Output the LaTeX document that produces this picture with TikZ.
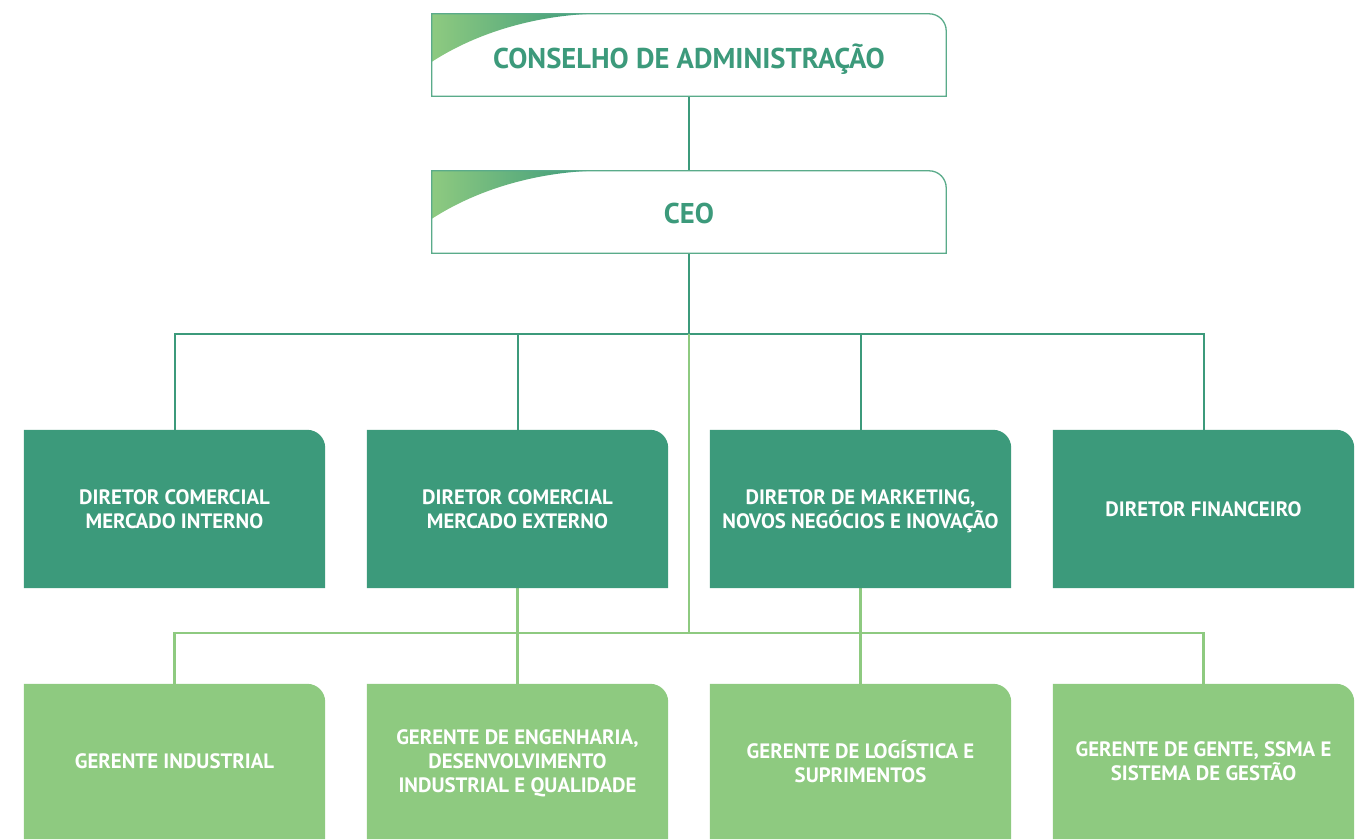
\documentclass[tikz,border=0pt]{standalone}
\usepackage{fontspec}
\setmainfont{PT Sans}
\usetikzlibrary{backgrounds}
\definecolor{dk}{HTML}{3C9A7B}
\definecolor{lg}{HTML}{8ECA80}
\definecolor{bd}{HTML}{5AAB8A}
\begin{document}
\begin{tikzpicture}[x=1pt,y=-1pt,
  dbox/.style={minimum width=301pt,minimum height=158pt,inner sep=0pt,align=center,text=white,text depth=0pt,font=\bfseries\fontsize{20.8}{24}\selectfont},
  mbox/.style={dbox,minimum height=155pt},
  tbox/.style={minimum width=514pt,minimum height=82pt,inner sep=0pt,text=dk,text depth=0pt,font=\bfseries\fontsize{28.6}{32}\selectfont},
  dline/.style={draw=dk,line width=2pt},
  lline/.style={draw=lg,line width=2.2pt}]
\useasboundingbox (0,0) rectangle (1363,839);
\node[tbox,text height=26pt] (cons) at (689,55) {CONSELHO DE ADMINISTRAÇÃO};
\node[tbox,text height=22pt] (ceo) at (689,212) {CEO};
\node[dbox] (d1) at (174.5,509) {DIRETOR COMERCIAL\\MERCADO INTERNO};
\node[dbox] (d2) at (517.5,509) {DIRETOR COMERCIAL\\MERCADO EXTERNO};
\node[dbox] (d3) at (860.5,509) {DIRETOR DE MARKETING,\\NOVOS NEGÓCIOS E INOVAÇÃO};
\node[dbox] (d4) at (1203.5,509) {DIRETOR FINANCEIRO};
\node[mbox] (m1) at (174.5,761.5) {GERENTE INDUSTRIAL};
\node[mbox] (m2) at (517.5,761.5) {GERENTE DE ENGENHARIA,\\DESENVOLVIMENTO\\INDUSTRIAL E QUALIDADE};
\node[mbox] (m3) at (860.5,761.5) {GERENTE DE LOGÍSTICA E\\SUPRIMENTOS};
\node[mbox] (m4) at (1203.5,761.5) {GERENTE DE GENTE, SSMA E\\SISTEMA DE GESTÃO};
\coordinate (j1) at (689,334);
\coordinate (j2) at (689,633);
\begin{scope}[on background layer]
  % connectors
  \draw[dline] (cons.south) -- (ceo.north);
  \draw[dline] (ceo.south) -- (j1);
  \draw[dline] (d1.north) -- (d1.north |- j1) -- (d4.north |- j1) -- (d4.north);
  \draw[dline] (d2.north |- j1) -- (d2.north);
  \draw[dline] (d3.north |- j1) -- (d3.north);
  \draw[lline] (j1) -- (j2);
  \draw[lline] (m1.north) -- (m1.north |- j2) -- (m4.north |- j2) -- (m4.north);
  \draw[lline] (d2.south) -- (m2.north);
  \draw[lline] (d3.south) -- (m3.north);
  % boxes
  \foreach \n in {d1,d2,d3,d4}{
    \fill[dk] (\n.south west) -- (\n.north west) -- ([xshift=-18pt]\n.north east) arc[start angle=90,end angle=0,radius=18pt] -- (\n.south east) -- cycle;
  }
  \foreach \n in {m1,m2,m3,m4}{
    \fill[lg] (\n.south west) -- (\n.north west) -- ([xshift=-18pt]\n.north east) arc[start angle=90,end angle=0,radius=18pt] -- (\n.south east) -- cycle;
  }
  \foreach \n in {cons,ceo}{
    \fill[white] (\n.south west) -- (\n.north west) -- ([xshift=-17pt]\n.north east) arc[start angle=90,end angle=0,radius=17pt] -- (\n.south east) -- cycle;
    \shade[left color=lg,right color=dk] (\n.north west) -- ++(158,0) .. controls +(-63,3) and +(40,-26) .. ([yshift=-48pt]\n.north west) -- cycle;
    \draw[bd,line width=1.3pt] (\n.south west) -- (\n.north west) -- ([xshift=-17pt]\n.north east) arc[start angle=90,end angle=0,radius=17pt] -- (\n.south east) -- cycle;
  }
\end{scope}
\end{tikzpicture}
\end{document}
